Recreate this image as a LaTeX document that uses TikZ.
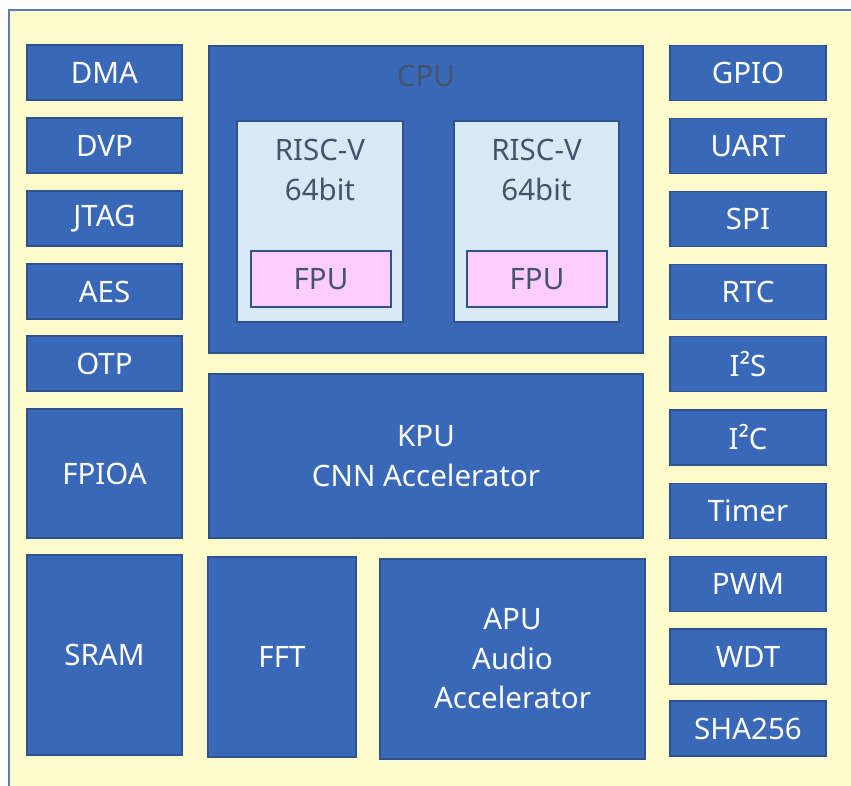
\documentclass[tikz,border=0pt]{standalone}
\usepackage{fontspec}
\setmainfont{Noto Sans}
\begin{document}
\begin{tikzpicture}[x=1pt,y=-1pt,
  blk/.style={draw=bordblue,line width=1.3pt,fill=boxblue,text=white,font=\fontsize{29.5}{39.5}\selectfont,align=center,inner sep=0pt},
  core/.style={draw=bordblue,line width=1.3pt,fill=coreblue,inner sep=0pt},
  fpubox/.style={draw=bordblue,line width=1.3pt,fill=fpupink,text=darktxt,font=\fontsize{29.5}{39.5}\selectfont,inner sep=0pt},
  dtext/.style={text=darktxt,font=\fontsize{29.5}{39.5}\selectfont,align=center,inner sep=0pt}]
\definecolor{boxblue}{HTML}{3A68B8}
\definecolor{bordblue}{HTML}{2F528F}
\definecolor{bgyellow}{HTML}{FFFCCC}
\definecolor{coreblue}{HTML}{DAE8F5}
\definecolor{fpupink}{HTML}{FFCCFF}
\definecolor{darktxt}{HTML}{44546A}
\definecolor{framecol}{HTML}{5B7DB1}
\useasboundingbox (0,0) rectangle (851,786);
\fill[white] (0,0) rectangle (851,786);
\draw[framecol,line width=1.2pt,fill=bgyellow] (9,10) rectangle (860,800);
% left column
\node[blk,minimum width=155pt,minimum height=55pt] (dma) at (104.5,72.5) {DMA};
\node[blk,minimum width=155pt,minimum height=55pt] (dvp) at (104.5,145.5) {DVP};
\node[blk,minimum width=155pt,minimum height=55pt] (jtag) at (104.5,218.5) {JTAG};
\node[blk,minimum width=155pt,minimum height=55pt] (aes) at (104.5,291.5) {AES};
\node[blk,minimum width=155pt,minimum height=55pt] (otp) at (104.5,363.5) {OTP};
\node[blk,minimum width=155pt,minimum height=129pt] (fpioa) at (104.5,473.5) {FPIOA};
\node[blk,minimum width=155pt,minimum height=200pt] (sram) at (104.5,655) {SRAM};
% right column
\node[blk,minimum width=156pt,minimum height=55pt] (gpio) at (748,73) {GPIO};
\node[blk,minimum width=156pt,minimum height=55pt] (uart) at (748,146) {UART};
\node[blk,minimum width=156pt,minimum height=55pt] (spi) at (748,219) {SPI};
\node[blk,minimum width=156pt,minimum height=55pt] (rtc) at (748,292) {RTC};
\node[blk,minimum width=156pt,minimum height=55pt] (i2s) at (748,364) {I²S};
\node[blk,minimum width=156pt,minimum height=55pt] (i2c) at (748,437.5) {I²C};
\node[blk,minimum width=156pt,minimum height=55pt] (timer) at (748,511) {Timer};
\node[blk,minimum width=156pt,minimum height=55pt] (pwm) at (748,584) {PWM};
\node[blk,minimum width=156pt,minimum height=55pt] (wdt) at (748,656.5) {WDT};
\node[blk,minimum width=156pt,minimum height=55pt] (sha) at (748,728.5) {SHA256};
% CPU
\node[blk,minimum width=434pt,minimum height=307pt] (cpu) at (426,199.5) {};
\node[dtext] (cpulbl) at (426,76) {CPU};
\node[core,minimum width=166pt,minimum height=201pt] (core1) at (320,221.5) {};
\node[core,minimum width=165pt,minimum height=201pt] (core2) at (536.5,221.5) {};
\node[dtext] (c1txt) at (320,170) {RISC-V\\64bit};
\node[dtext] (c2txt) at (536.5,170) {RISC-V\\64bit};
\node[fpubox,minimum width=140pt,minimum height=56pt] (fpu1) at (321,279) {FPU};
\node[fpubox,minimum width=140pt,minimum height=56pt] (fpu2) at (537,279) {FPU};
% KPU, FFT, APU
\node[blk,minimum width=434pt,minimum height=164pt] (kpu) at (426,456) {KPU\\CNN Accelerator};
\node[blk,minimum width=148pt,minimum height=200pt] (fft) at (282,657) {FFT};
\node[blk,minimum width=265pt,minimum height=200pt] (apu) at (512.5,659) {APU\\Audio\\Accelerator};
\end{tikzpicture}
\end{document}
